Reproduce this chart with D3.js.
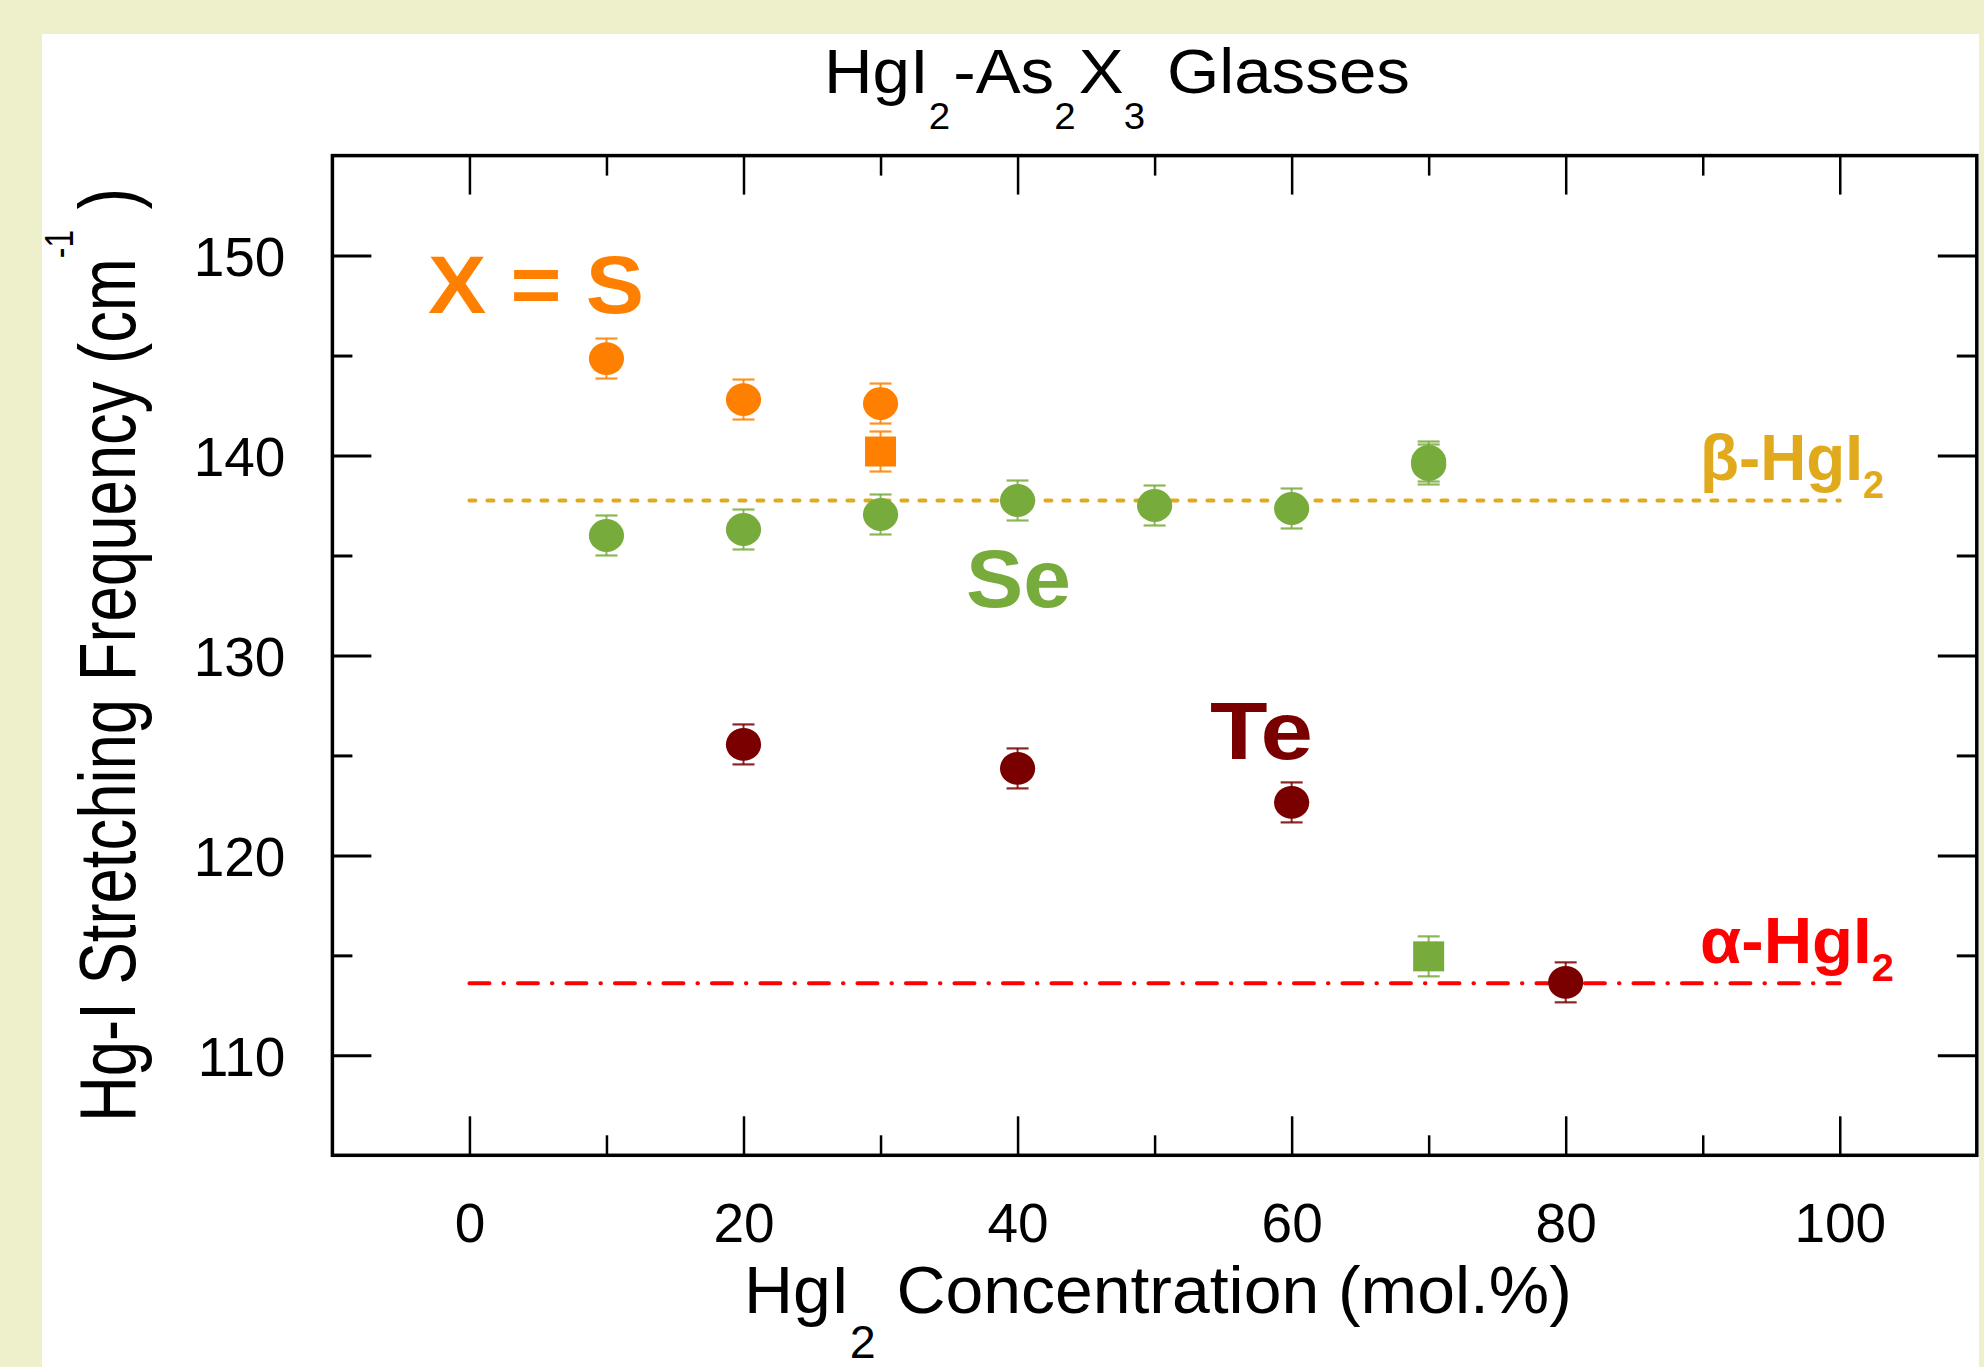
<!DOCTYPE html>
<html><head><meta charset="utf-8">
<script src="https://cdn.jsdelivr.net/npm/d3@7"></script>
<style>body{margin:0;background:#eef0cc;} svg{display:block} text{white-space:pre}</style>
</head><body>
<svg id="c" width="1984" height="1367"></svg>
<script>
// ---- data ----
const xMajor = [0, 20, 40, 60, 80, 100];
const xMinor = [10, 30, 50, 70, 90];
const yMajor = [110, 120, 130, 140, 150];
const yMinor = [115, 125, 135, 145];

const sX = [10, 20, 30];
const sY = [144.85, 142.8, 142.6];
const sSqX = [30];
const sSqY = [140.2];

const seX = [10, 20, 30, 40, 50, 60, 70, 70];
const seY = [136.0, 136.3, 137.05, 137.75, 137.5, 137.35, 139.7, 139.55];
const seSqX = [70];
const seSqY = [114.95];

const teX = [20, 40, 60, 80];
const teY = [125.55, 124.35, 122.65, 113.65];

const errVal = 1.0;
const refX = [0, 100];
const betaY = 137.75;
const alphaY = 113.6;

// ---- setup ----
const svg = d3.select("#c");
const FONT = "'Liberation Sans', Arial, Helvetica, sans-serif";
const NARROW = "'Liberation Sans Narrow', 'Arial Narrow', 'Liberation Sans', Arial, sans-serif";
const C = {S: "#ff8000", Se: "#77ab3b", Te: "#7a0000", beta: "#e0aa1c", alpha: "#ff0000"};

svg.append("rect").attr("x", 0).attr("y", 0).attr("width", 1984).attr("height", 1367).attr("fill", "#eef0cc");
svg.append("rect").attr("x", 42).attr("y", 34).attr("width", 1937).attr("height", 1333).attr("fill", "#ffffff");

const L = 332.4, R = 1976.8, T = 155.6, B = 1155.3;
const x = d3.scaleLinear().domain([-10, 110]).range([L, R]);
const y = d3.scaleLinear().domain([105, 155]).range([B, T]);

function styleAxis(w) {
  return g => {
    g.select(".domain").remove();
    g.selectAll(".tick line").attr("stroke", "#000").attr("stroke-width", w);
    g.selectAll(".tick text").attr("font-family", FONT).attr("font-size", 55).attr("fill", "#000");
  };
}
const MAJ = 39, MIN = 20;
// bottom
svg.append("g").attr("transform", `translate(0,${B})`)
  .call(d3.axisBottom(x).tickValues(xMajor).tickSize(-MAJ).tickPadding(48)).call(styleAxis(2.5));
svg.append("g").attr("transform", `translate(0,${B})`)
  .call(d3.axisBottom(x).tickValues(xMinor).tickSize(-MIN).tickFormat("")).call(styleAxis(2.5));
// top
svg.append("g").attr("transform", `translate(0,${T})`)
  .call(d3.axisTop(x).tickValues(xMajor).tickSize(-MAJ).tickFormat("")).call(styleAxis(2.5));
svg.append("g").attr("transform", `translate(0,${T})`)
  .call(d3.axisTop(x).tickValues(xMinor).tickSize(-MIN).tickFormat("")).call(styleAxis(2.5));
// left
const gl = svg.append("g").attr("transform", `translate(${L},0)`)
  .call(d3.axisLeft(y).tickValues(yMajor).tickSize(-MAJ).tickPadding(47)).call(styleAxis(3));
gl.selectAll(".tick text").attr("dy", "0.36em");
svg.append("g").attr("transform", `translate(${L},0)`)
  .call(d3.axisLeft(y).tickValues(yMinor).tickSize(-MIN).tickFormat("")).call(styleAxis(3));
// right
svg.append("g").attr("transform", `translate(${R},0)`)
  .call(d3.axisRight(y).tickValues(yMajor).tickSize(-MAJ).tickFormat("")).call(styleAxis(3));
svg.append("g").attr("transform", `translate(${R},0)`)
  .call(d3.axisRight(y).tickValues(yMinor).tickSize(-MIN).tickFormat("")).call(styleAxis(3));

// frame
svg.append("rect").attr("x", L).attr("y", T).attr("width", R - L).attr("height", B - T)
  .attr("fill", "none").attr("stroke", "#000").attr("stroke-width", 3.5);

// reference lines
const line = d3.line().x(d => x(d[0])).y(d => y(d[1]));
svg.append("path").datum(refX.map(v => [v, betaY])).attr("d", line)
  .attr("fill", "none").attr("stroke", C.beta).attr("stroke-width", 4)
  .attr("stroke-linecap", "round").attr("stroke-dasharray", "6,12");
svg.append("path").datum(refX.map(v => [v, alphaY])).attr("d", line)
  .attr("fill", "none").attr("stroke", C.alpha).attr("stroke-width", 4)
  .attr("stroke-linecap", "round").attr("stroke-dasharray", "20,14,0.5,14");

// error bars + markers
function series(xs, ys, color, shape) {
  const data = xs.map((v, i) => ({x: v, y: ys[i]}));
  const g = svg.append("g");
  const eb = g.selectAll(".eb").data(data).enter().append("g");
  const cap = 11;
  eb.append("line").attr("x1", d => x(d.x)).attr("x2", d => x(d.x))
    .attr("y1", d => y(d.y - errVal)).attr("y2", d => y(d.y + errVal))
    .attr("stroke", color).attr("stroke-width", 2).attr("opacity", 0.85);
  [-1, 1].forEach(s => {
    eb.append("line").attr("x1", d => x(d.x) - cap).attr("x2", d => x(d.x) + cap)
      .attr("y1", d => y(d.y + s * errVal)).attr("y2", d => y(d.y + s * errVal))
      .attr("stroke", color).attr("stroke-width", 2.2).attr("opacity", 0.85);
  });
  if (shape === "circle") {
    g.selectAll(".m").data(data).enter().append("ellipse")
      .attr("cx", d => x(d.x)).attr("cy", d => y(d.y)).attr("rx", 17.6).attr("ry", 16.4)
      .attr("fill", color);
  } else {
    g.selectAll(".m").data(data).enter().append("rect")
      .attr("x", d => x(d.x) - 15.5).attr("y", d => y(d.y) - 15).attr("width", 31).attr("height", 30)
      .attr("fill", color);
  }
}
series(sX, sY, C.S, "circle");
series(sSqX, sSqY, C.S, "square");
series(seX, seY, C.Se, "circle");
series(seSqX, seSqY, C.Se, "square");
series(teX, teY, C.Te, "circle");

// ---- text helper: parts placed explicitly, then fitted to measured width ----
function placeText(parts, opt) {
  const g = svg.append("g");
  const t = g.append("text").attr("font-family", opt.font || FONT).attr("font-size", opt.size)
    .attr("font-weight", opt.bold ? "bold" : "normal").attr("fill", opt.color || "#000");
  let cx = 0;
  parts.forEach(([s, k]) => {
    const ts = t.append("tspan").text(s).attr("x", cx)
      .attr("y", k === "sub" ? opt.subDy : (k === "sup" ? opt.supDy : 0));
    if (k !== "n") ts.attr("font-size", opt.subSize);
    cx += ts.node().getComputedTextLength() + (k !== "n" ? (opt.subGap || 0) : 0);
  });
  const bb = t.node().getBBox();
  const sx = opt.width ? opt.width / bb.width : 1;
  g.attr("transform", `translate(${opt.x},${opt.y}) ${opt.rotate ? "rotate(-90)" : ""} scale(${sx},1) translate(${-bb.x},0)`);
  return g;
}

// title
placeText([["HgI","n"],["2","sub"],["-As","n"],["2","sub"],["X","n"],["3","sub"],[" Glasses","n"]],
  {x: 824, y: 93, size: 63, subSize: 36, subDy: 36, subGap: 3, width: 586, font: NARROW});
// x label
placeText([["HgI","n"],["2","sub"],[" Concentration (mol.%)","n"]],
  {x: 744, y: 1313, size: 67, subSize: 46, subDy: 45, subGap: 2, width: 828, font: NARROW});
// y label
placeText([["Hg-I Stretching Frequency (cm","n"],["-1","sup"],[" )","n"]],
  {x: 135, y: 1122, size: 80, subSize: 40, supDy: -62, subGap: 4, width: 934, rotate: true, font: NARROW});

// annotations
placeText([["X = S","n"]], {x: 428, y: 313, size: 82, bold: true, color: C.S, width: 216});
placeText([["Se","n"]], {x: 966, y: 607, size: 82, bold: true, color: C.Se, width: 105});
placeText([["Te","n"]], {x: 1210, y: 759, size: 82, bold: true, color: C.Te, width: 103});
placeText([["\u03b2-HgI","n"],["2","sub"]], {x: 1700, y: 480, size: 64, bold: true, color: C.beta, subSize: 38, subDy: 18, width: 184});
placeText([["\u03b1-HgI","n"],["2","sub"]], {x: 1700, y: 963, size: 64, bold: true, color: C.alpha, subSize: 38, subDy: 18, width: 194});
</script>
</body></html>
